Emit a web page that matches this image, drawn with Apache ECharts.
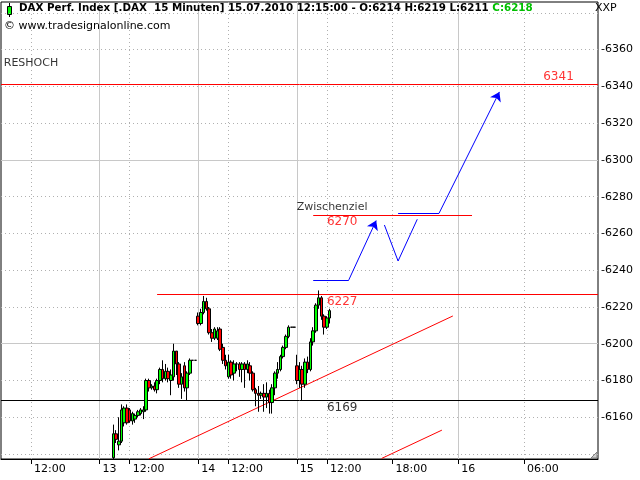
<!DOCTYPE html>
<html>
<head>
<meta charset="utf-8">
<script src="https://cdn.jsdelivr.net/npm/echarts@6.0.0/dist/echarts.min.js"></script>
<style>
html,body{margin:0;padding:0;background:#ffffff;}
#chart{width:640px;height:480px;}
</style>
</head>
<body>
<div id="chart"></div>
<script>
// ---------- time axis: 15-minute bars ----------
const pastDays = ['12.07.', '13.07.', '14.07.'];   // full sessions 09:15 .. 18:00
const liveDay = '15.07.';
const nextDay = '16.07.';
const liveSlots = 111;                             // 15.07. 09:15 .. 16.07. 12:45

// x-axis ticks / labels / grid lines
const xTickCats   = ['12.07. 12:00','13.07. 09:15','13.07. 12:00','14.07. 09:15','14.07. 12:00','15.07. 09:15','15.07. 12:00','15.07. 18:00','16.07. 00:00','16.07. 06:00'];
const xTickLabels = ['12:00','13','12:00','14','12:00','15','12:00','18:00','16','06:00'];
const dayLineCats  = ['13.07. 09:15','14.07. 09:15','15.07. 09:15','16.07. 00:00'];
const hourLineCats = ['12.07. 12:00','13.07. 12:00','14.07. 12:00','15.07. 12:00','15.07. 18:00','16.07. 06:00'];

// y axis
const yView = [6137.3, 6385.9];
const yTickRange = [6140, 6380];
const yTickStep = 20;
const yMajor = [6200, 6300];

// ---------- candles [open, close, low, high] ----------
const ohlc13Start = '13.07. 10:30';
const ohlc13 = [
  [6138,6151,6137.3,6156],[6151,6148,6146,6153],[6145,6147,6142,6160],[6147,6164,6146,6167],
  [6157,6165,6155,6166],[6165,6157,6156,6167],[6164,6158,6157,6165],[6158,6162,6156,6163],
  [6159,6161,6157,6162],[6161,6163,6160,6164],[6162,6164,6161,6165],[6163,6164,6159,6166],
  [6164,6180,6163,6181],[6180,6176,6174,6181],[6176,6177,6175,6178],[6177,6175,6174,6179],
  [6175,6180,6173,6181],[6180,6186,6178,6187],[6186,6181,6179,6191],[6181,6185,6180,6189],
  [6185,6181,6179,6187],[6180,6183,6172,6186],[6182,6196,6180,6200],[6196,6189,6183,6196],
  [6189,6178,6176,6190],[6178,6182,6170,6184],[6188,6176,6174,6190],[6176,6184,6169,6185],
  [6184,6191,6183,6192],[6191,6191,6191,6191],[6191,6191,6191,6191]
];
const ohlc14Start = '14.07. 09:15';
const ohlc14 = [
  [6215,6211,6210,6217],[6211,6217,6210,6219],[6217,6223,6216,6226],[6223,6219,6218,6225],
  [6219,6206,6205,6220],[6206,6203,6201,6208],[6203,6208,6202,6209],[6203,6207,6202,6209],
  [6208,6197,6196,6209],[6198,6191,6189,6200],[6191,6188,6186,6194],[6182,6190,6181,6194],
  [6190,6183,6181,6191],[6184,6189,6180,6191],[6189,6189,6185,6190],[6189,6186,6182,6190],
  [6186,6189,6179,6190],[6189,6186,6176,6190],[6186,6189,6184,6191],[6188,6184,6180,6190],
  [6184,6175,6174,6185],[6175,6173,6166,6176],[6173,6172,6163,6177],[6172,6173,6170,6174],
  [6173,6171,6163,6178],[6171,6173,6165,6179],[6173,6168,6162,6175],[6168,6176,6162,6178],
  [6176,6184,6172,6185],[6184,6186,6181,6190],[6186,6193,6185,6194],[6193,6198,6192,6199],
  [6198,6204,6197,6205],[6204,6209,6203,6210],[6209,6209,6209,6209],[6209,6209,6209,6209]
];
const ohlc15Start = '15.07. 09:15';
const ohlc15 = [
  [6188,6180,6178,6194],[6180,6186,6176,6190],[6186,6178,6169,6188],[6178,6190,6176,6192],
  [6190,6186,6184,6193],[6186,6201,6185,6203],[6201,6207,6199,6209],[6207,6221,6206,6222],
  [6221,6225,6219,6229],[6225,6215,6213,6226],[6215,6209,6205,6216],[6209,6214,6208,6215],
  [6214,6218,6211,6219]
];

// ---------- drawn levels and annotations ----------
const resHoch = 6341, zwischenziel = 6270, resistance = 6227, support = 6169;
const resHochSpan = ['12.07. 09:15', '16.07. 12:45'];
const zielSpan    = ['15.07. 10:45', '16.07. 01:15'];
const resSpan     = ['13.07. 14:30', '16.07. 12:45'];
const supSpan     = ['12.07. 09:15', '16.07. 12:45'];
const trendUpper = [['13.07. 13:45', 6137.4], ['15.07. 23:30', 6215.1]];
const trendLower = [['15.07. 17:00', 6137.6], ['15.07. 22:30', 6153.0]];
const pathFirst = [['15.07. 10:45', 6234.7], ['15.07. 14:00', 6234.7], ['15.07. 16:30', 6267]];
const pathDip   = [['15.07. 17:15', 6264.6], ['15.07. 18:30', 6245.0], ['15.07. 20:15', 6267.7]];
const pathFinal = [['15.07. 18:30', 6271.1], ['15.07. 22:15', 6271.1], ['16.07. 03:45', 6337]];
const textAnchorsCat   = ['12.07. 09:30', '16.07. 07:45', '15.07. 09:15', '15.07. 12:00', '15.07. 12:00', '15.07. 12:00'];
const textAnchorsPrice = [6352.7, 6345.0, 6274.4, 6266.4, 6222.6, 6165.0];
const textStrings = ['RESHOCH', String(resHoch), 'Zwischenziel', String(zwischenziel), String(resistance), String(support)];

// ---------- build ----------
function hm(m) { const h = Math.floor(m / 60) % 24, mm = m % 60; return String(h).padStart(2, '0') + ':' + String(mm).padStart(2, '0'); }
const cats = [];
for (const d of pastDays) for (let m = 555; m <= 1080; m += 15) cats.push(d + ' ' + hm(m));
for (let k = 0; k < liveSlots; k++) { const m = 555 + k * 15; cats.push((m < 1440 ? liveDay : nextDay) + ' ' + hm(m)); }

const candleData = cats.map(() => '-');
function place(start, arr) { const i0 = cats.indexOf(start); arr.forEach((v, j) => { candleData[i0 + j] = v; }); }
place(ohlc13Start, ohlc13); place(ohlc14Start, ohlc14); place(ohlc15Start, ohlc15);

const last = ohlc15[ohlc15.length - 1];
const F = "'DejaVu Sans', Verdana, sans-serif";
const tickSet = new Set(xTickCats);
const labelMap = {}; xTickCats.forEach((c, i) => labelMap[c] = xTickLabels[i]);
const daySet = new Set(dayLineCats), hourSet = new Set(hourLineCats);

const G0 = { left: 1, right: 42, top: 2, bottom: 21 };
const pxPerPt = (480 - G0.top - G0.bottom) / (yView[1] - yView[0]);
const g1Top = G0.top + (yView[1] - yTickRange[1]) * pxPerPt;
const g1Bottom = G0.bottom + (yTickRange[0] - yView[0]) * pxPerPt;

const RED = '#ff0000', BLUE = '#0000ff';
const textColors = ['#000', RED, '#000', RED, RED, '#000'];
const textSizes = [11, 12, 11, 12, 12, 12];

const chart = echarts.init(document.getElementById('chart'), null, { renderer: 'canvas' });
chart.setOption({
  animation: false,
  backgroundColor: '#ffffff',
  title: [
    { left: 19, top: 3, padding: 0, text: '{a|DAX Perf. Index [.DAX  15 Minuten] 15.07.2010 12:15:00 - O:' + last[0] + ' H:' + last[3] + ' L:' + last[2] + ' }{g|C:' + last[1] + '}',
      textStyle: { rich: { a: { fontFamily: F, fontSize: 10.3, color: '#000' }, g: { fontFamily: F, fontSize: 10.3, color: '#00c000' } } } },
    { left: 4, top: 21, padding: 0, text: '© www.tradesignalonline.com', textStyle: { fontFamily: F, fontSize: 11, fontWeight: 'normal', color: '#000' } },
    { left: 595, top: 3, padding: 0, text: 'XXP', textStyle: { fontFamily: F, fontSize: 11, fontWeight: 'normal', color: '#000' } }
  ],
  grid: [
    { left: G0.left, right: G0.right, top: G0.top, bottom: G0.bottom, show: true, borderColor: '#000', borderWidth: 1, outerBoundsMode: 'none', containLabel: false },
    { left: G0.left, right: G0.right, top: g1Top, bottom: g1Bottom, show: false, outerBoundsMode: 'none', containLabel: false }
  ],
  xAxis: [
    { gridIndex: 0, type: 'category', data: cats, boundaryGap: false,
      axisLine: { show: true, lineStyle: { color: '#000', width: 1 } },
      axisTick: { show: true, interval: (i, v) => tickSet.has(v), length: 5, lineStyle: { color: '#000' } },
      axisLabel: { show: true, interval: (i, v) => tickSet.has(v), formatter: v => labelMap[v] || '', align: 'left', padding: [0, 0, 0, 3], margin: 5, fontFamily: F, fontSize: 11, color: '#000' },
      splitLine: { show: true, interval: (i, v) => daySet.has(v), lineStyle: { color: '#c8c8c8', width: 1, type: 'solid' } } },
    { gridIndex: 0, type: 'category', data: cats, boundaryGap: false, position: 'bottom',
      axisLine: { show: false }, axisTick: { show: false }, axisLabel: { show: false },
      splitLine: { show: true, interval: (i, v) => hourSet.has(v), lineStyle: { color: '#b0b0b0', width: 1, type: [1, 3] } } },
    { gridIndex: 1, type: 'value', min: 0, max: 1, show: false }
  ],
  yAxis: [
    { gridIndex: 0, type: 'value', min: yView[0], max: yView[1], show: false, splitLine: { show: false } },
    { gridIndex: 1, type: 'value', position: 'right', min: yTickRange[0], max: yTickRange[1], interval: yTickStep,
      axisLine: { show: false }, axisTick: { show: false },
      axisLabel: { show: true, showMinLabel: false, showMaxLabel: false, margin: 3, formatter: v => '-' + v, fontFamily: F, fontSize: 11, color: '#000' },
      splitLine: { show: true, lineStyle: { color: '#b0b0b0', width: 1, type: [1, 3] } } }
  ],
  series: [
    { type: 'lines', coordinateSystem: 'cartesian2d', xAxisIndex: 0, yAxisIndex: 0, z: 1, silent: true,
      lineStyle: { color: '#c8c8c8', width: 1, type: 'solid', opacity: 1 },
      data: yMajor.map(p => ({ coords: [[cats[0], p], [cats[cats.length - 1], p]] })) },
    { type: 'lines', coordinateSystem: 'cartesian2d', xAxisIndex: 0, yAxisIndex: 0, z: 2, silent: true,
      lineStyle: { width: 1, opacity: 1 },
      data: [
        { coords: [[resHochSpan[0], resHoch], [resHochSpan[1], resHoch]], lineStyle: { color: RED } },
        { coords: [[zielSpan[0], zwischenziel], [zielSpan[1], zwischenziel]], lineStyle: { color: RED } },
        { coords: [[resSpan[0], resistance], [resSpan[1], resistance]], lineStyle: { color: RED } },
        { coords: [[supSpan[0], support], [supSpan[1], support]], lineStyle: { color: '#000' } }
      ] },
    { type: 'lines', coordinateSystem: 'cartesian2d', xAxisIndex: 0, yAxisIndex: 0, z: 2, silent: true,
      lineStyle: { color: RED, width: 1, type: 'solid', opacity: 1 },
      data: [{ coords: trendUpper }, { coords: trendLower }] },
    { type: 'candlestick', xAxisIndex: 0, yAxisIndex: 0, z: 3, data: candleData, barWidth: 3, clip: true, silent: true,
      itemStyle: { color: '#00ff00', color0: '#ff0000', borderColor: '#000', borderColor0: '#000', borderColorDoji: '#000', borderWidth: 1 } },
    // flat parts of the projected paths
    { type: 'lines', coordinateSystem: 'cartesian2d', xAxisIndex: 0, yAxisIndex: 0, z: 4, silent: true,
      symbol: ['none', 'none'],
      lineStyle: { color: BLUE, width: 1, opacity: 1 },
      data: [{ coords: pathFirst.slice(0, 2) }, { coords: pathFinal.slice(0, 2) }, { coords: pathDip.slice(0, 2) }, { coords: pathDip.slice(1, 3) }] },
    // rising legs with arrow heads
    { type: 'lines', coordinateSystem: 'cartesian2d', xAxisIndex: 0, yAxisIndex: 0, z: 4, silent: true,
      symbol: ['none', 'arrow'], symbolSize: 9,
      lineStyle: { color: BLUE, width: 1, opacity: 1 },
      data: [{ coords: pathFirst.slice(1, 3) }, { coords: pathFinal.slice(1, 3) }] },
    { type: 'scatter', xAxisIndex: 0, yAxisIndex: 0, z: 5, silent: true, symbolSize: 0,
      label: { show: true, position: 'right', distance: 0, formatter: p => p.name, fontFamily: F },
      data: textStrings.map((t, i) => ({ name: t, value: [textAnchorsCat[i], textAnchorsPrice[i]],
        label: { color: textColors[i], fontSize: textSizes[i] } })) }
  ],
  graphic: [
    { type: 'line', shape: { x1: 9.5, y1: 3, x2: 9.5, y2: 17 }, style: { stroke: '#000', lineWidth: 1 } },
    { type: 'rect', shape: { x: 7.5, y: 6.5, width: 4, height: 8 }, style: { fill: '#00ff00', stroke: '#000', lineWidth: 1 } },
    { type: 'polygon', shape: { points: [[597, 452], [597, 458], [591, 458]] }, style: { fill: '#d0d0d0', stroke: '#808080', lineWidth: 1 } }
  ]
});
</script>
</body>
</html>
